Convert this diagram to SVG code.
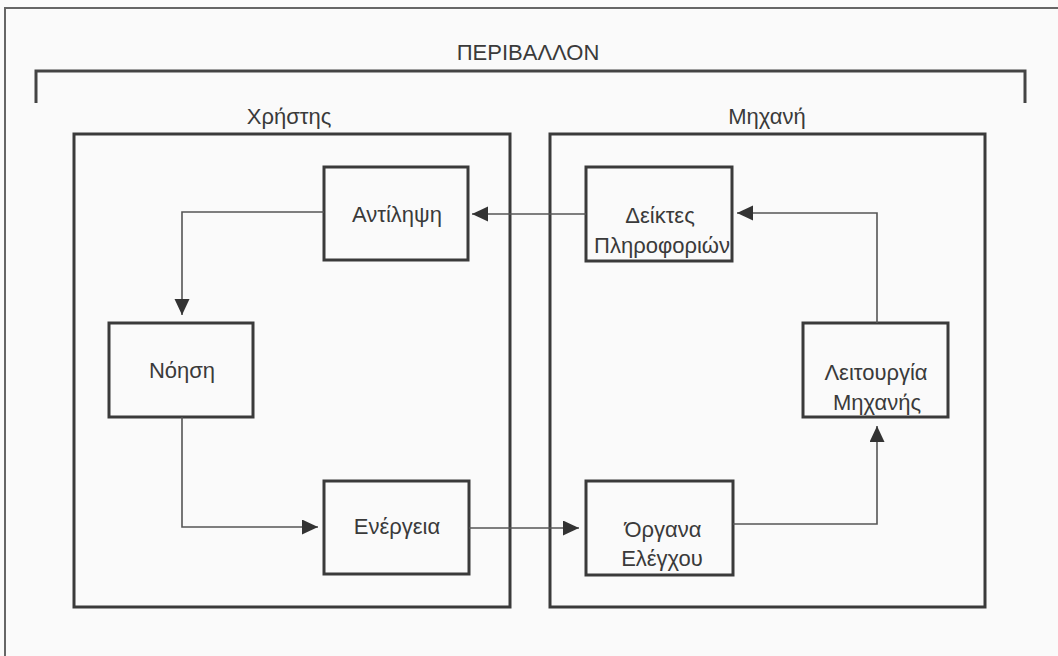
<svg xmlns="http://www.w3.org/2000/svg" width="1058" height="656" viewBox="0 0 1058 656">
<defs>
<marker id="arr" markerUnits="userSpaceOnUse" markerWidth="17" markerHeight="16" refX="16" refY="7.5" orient="auto">
<path d="M0,0 L16,7.5 L0,15 z" fill="#333"/>
</marker>
<style>
text{font-family:"Liberation Sans",Arial,sans-serif;font-size:22px;fill:#3a3a3a;text-anchor:middle}
.box{fill:none;stroke:#3a3a3a;stroke-width:3}
.frame{fill:none;stroke:#444;stroke-width:3}
.conn{fill:none;stroke:#555;stroke-width:1.6;marker-end:url(#arr)}
</style>
</defs>
<rect width="1058" height="656" fill="#fafafa"/>
<path d="M5,656 L5,8 L1058,8" fill="none" stroke="#666" stroke-width="2"/>
<g id="environment">
<text x="528" y="60" font-size="23.5">ΠΕΡΙΒΑΛΛΟΝ</text>
<path d="M36,103 L36,71 L1025,71 L1025,103" class="frame"/>
</g>
<g id="user">
<text x="289" y="124">Χρήστης</text>
<rect x="74" y="134" width="436" height="473" class="box"/>
</g>
<g id="machine">
<text x="767" y="124">Μηχανή</text>
<rect x="550" y="134" width="435" height="473" class="box"/>
</g>
<g id="perception">
<rect x="324" y="167" width="144" height="93" class="box"/>
<text x="397" y="222">Αντίληψη</text>
</g>
<g id="cognition">
<rect x="109" y="323" width="144" height="94" class="box"/>
<text x="182" y="378">Νόηση</text>
</g>
<g id="action">
<rect x="324" y="481" width="145" height="93" class="box"/>
<text x="397" y="534">Ενέργεια</text>
</g>
<g id="indicators">
<rect x="586" y="167" width="146" height="94" class="box"/>
<text x="660" y="223">Δείκτες</text>
<text x="662" y="253">Πληροφοριών</text>
</g>
<g id="operation">
<rect x="803" y="323" width="145" height="94" class="box"/>
<text x="876" y="380">Λειτουργία</text>
<text x="877" y="410">Μηχανής</text>
</g>
<g id="controls">
<rect x="586" y="481" width="147" height="94" class="box"/>
<text x="663" y="537">Όργανα</text>
<text x="662" y="566">Ελέγχου</text>
</g>
<g id="connectors">
<path d="M324,212 L182,212 L182,315" class="conn"/>
<path d="M182,417 L182,527 L318,527" class="conn"/>
<path d="M469,528 L579,528" class="conn"/>
<path d="M733,524 L877,524 L877,426" class="conn"/>
<path d="M877,323 L877,213 L737,213" class="conn"/>
<path d="M586,214 L472,214" class="conn"/>
</g>
</svg>
